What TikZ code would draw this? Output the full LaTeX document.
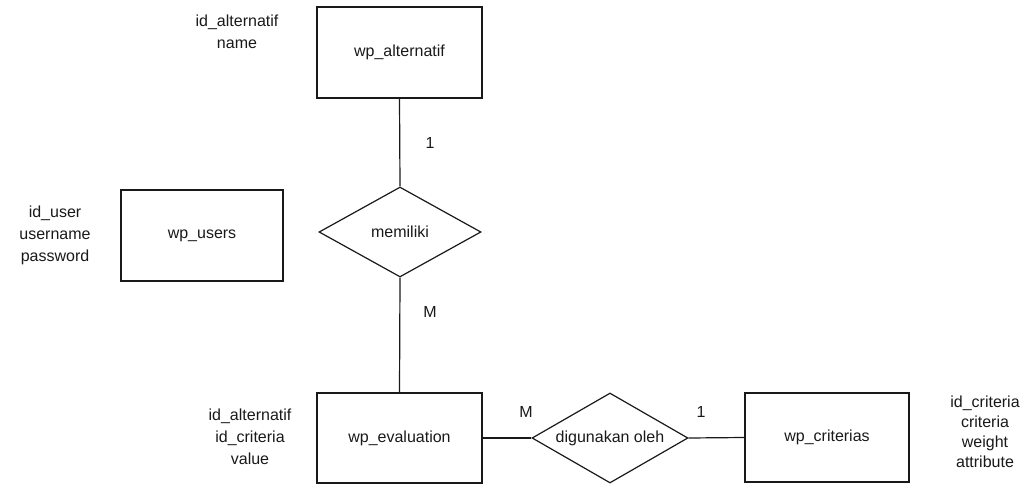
\documentclass[tikz,border=0pt]{standalone}
\usepackage{fontspec}
\setmainfont{Liberation Sans}
\usetikzlibrary{shapes.geometric}
\begin{document}
\begin{tikzpicture}[x=1pt,y=-1pt,
  every node/.style={font=\fontsize{16}{22}\selectfont, text=black!90},
  entity/.style={draw=black!90, line width=1.2pt, rectangle, inner sep=0pt},
  rel/.style={draw=black!90, line width=1.2pt, diamond, aspect=1.75, inner sep=0pt, minimum width=158pt, minimum height=90pt},
  conn/.style={draw=black!90, line width=1.2pt},
  card/.style={inner sep=0pt},
  attrs/.style={align=center, inner sep=0pt}]
\useasboundingbox (0,0) rectangle (1027,484);
\node[entity, minimum width=165pt, minimum height=91pt] (alt) at (399.5,52.5) {wp\_alternatif};
\node[rel, minimum width=162pt, minimum height=90pt] (mem) at (400,232) {memiliki};
\node[entity, minimum width=162pt, minimum height=91pt] (users) at (202,235.5) {wp\_users};
\node[entity, minimum width=165pt, minimum height=90pt] (eval) at (399.5,438) {wp\_evaluation};
\node[rel, minimum width=156pt] (dig) at (610,438) {digunakan oleh};
\node[entity, minimum width=164pt, minimum height=89pt] (crit) at (827,437.5) {wp\_criterias};
\draw[conn] (alt.south) -- (mem.north);
\draw[conn] (mem.south) -- (eval.north);
\draw[conn] (eval.east) -- (dig.west);
\draw[conn] (dig.east) -- (crit.west);
\node[card] (c1) at (430,143) {1};
\node[card] (c2) at (430,312) {M};
\node[card] (c3) at (526,412) {M};
\node[card] (c4) at (701,412) {1};
\node[attrs] (altattr) at (237,32) {id\_alternatif\\name};
\node[attrs] (userattr) at (55,235) {id\_user\\username\\password};
\node[attrs] (evalattr) at (250,437) {id\_alternatif\\id\_criteria\\value};
\node[attrs, font=\fontsize{16}{20}\selectfont] (critattr) at (985,432) {id\_criteria\\criteria\\weight\\attribute};
\end{tikzpicture}
\end{document}
